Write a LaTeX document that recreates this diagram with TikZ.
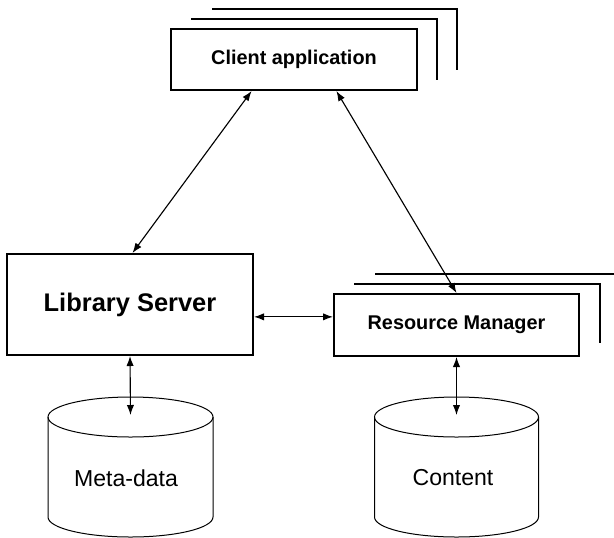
\documentclass[tikz,border=0pt]{standalone}
\usepackage{fontspec}
\setmainfont{Liberation Sans}
\usetikzlibrary{arrows.meta,calc}
\begin{document}
\begin{tikzpicture}[x=0.75pt,y=-0.75pt,
  box/.style={draw,line width=1.5pt,inner sep=0pt,align=center},
  backline/.style={line width=0.9pt},
  cyl/.style={line width=0.75pt},
  conn/.style={line width=0.85pt,{Latex[length=7.5pt,width=5.5pt]}-{Latex[length=7.5pt,width=5.5pt]}},
  lbl/.style={font=\fontsize{17.3pt}{20pt}\selectfont}]
\useasboundingbox (0,0) rectangle (614,537);
% back sheets of client
\draw[backline] (212,9) -- (457,9) -- (457,70);
\draw[backline] (191,19) -- (437,19) -- (437,80);
% back sheets of resource manager
\draw[backline] (375,274) -- (614,274);
\draw[backline] (354,284) -- (600,284) -- (600,343);
% boxes
\node[box,fill=white,minimum width=184.5pt,minimum height=45.75pt,font=\bfseries\fontsize{14.9pt}{17pt}\selectfont] (client) at (294,59.5) {Client application};
\node[box,minimum width=184.5pt,minimum height=75.75pt,font=\bfseries\fontsize{19.1pt}{22pt}\selectfont] (ls) at (130,304.5) {Library Server};
\node[box,fill=white,minimum width=183.75pt,minimum height=46.5pt,font=\bfseries\fontsize{14.9pt}{17pt}\selectfont] (rm) at (456.5,325) {Resource Manager};
% cylinders
\draw[cyl] (130.5,417) ellipse [x radius=82.5, y radius=20];
\draw[cyl] (48,417) -- (48,517) .. controls (48,528.05) and (84.94,537) .. (130.5,537)
  .. controls (176.06,537) and (213,528.05) .. (213,517) -- (213,417);
\node[lbl] (meta) at (126,478) {Meta-data};
\coordinate (metatop) at (130.5,415);
\draw[cyl] (456.5,417) ellipse [x radius=82, y radius=20];
\draw[cyl] (374.5,417) -- (374.5,517) .. controls (374.5,528.05) and (411.2,537) .. (456.5,537)
  .. controls (501.8,537) and (538.5,528.05) .. (538.5,517) -- (538.5,417);
\node[lbl] (content) at (453,478) {Content};
\coordinate (contenttop) at (456.5,415);
% connectors
\draw[conn] ($(client.south west)!0.329!(client.south east)$) -- ($(ls.north west)!0.51!(ls.north east)$);
\draw[conn] ($(client.south west)!0.671!(client.south east)$) -- (rm.north);
\coordinate (h) at ($(ls.north east)!0.62!(ls.south east)$);
\draw[conn] (h) -- (h -| rm.west);
\draw[conn] (ls.south) -- (metatop);
\draw[conn] (rm.south) -- (contenttop);
\end{tikzpicture}
\end{document}
